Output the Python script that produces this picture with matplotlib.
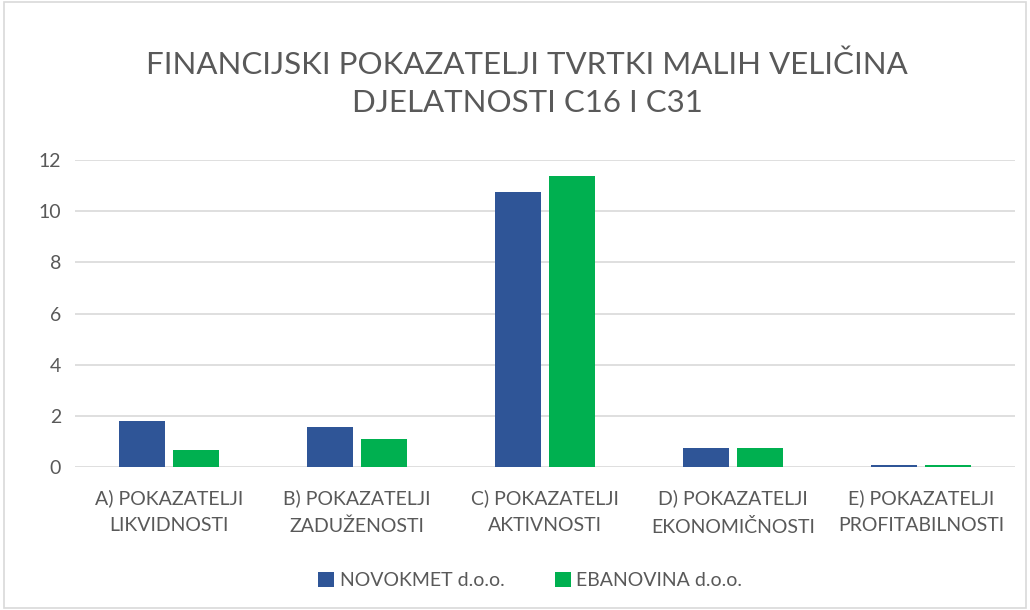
import matplotlib
matplotlib.use("Agg")
import matplotlib.pyplot as plt
import numpy as np
from matplotlib.patches import Rectangle

categories = ["A) POKAZATELJI\nLIKVIDNOSTI", "B) POKAZATELJI\nZADUŽENOSTI", "C) POKAZATELJI\nAKTIVNOSTI",
              "D) POKAZATELJI\nEKONOMIČNOSTI", "E) POKAZATELJI\nPROFITABILNOSTI"]
novokmet = [1.80, 1.55, 10.75, 0.74, 0.08]
ebanovina = [0.65, 1.09, 11.39, 0.74, 0.08]
series_names = ["NOVOKMET d.o.o.", "EBANOVINA d.o.o."]
yticks = [0, 2, 4, 6, 8, 10, 12]
title = "FINANCIJSKI POKAZATELJI TVRTKI MALIH VELIČINA\nDJELATNOSTI C16 I C31"

plt.rcParams['font.family'] = ['Lato', 'DejaVu Sans']
gray = "#595959"

fig = plt.figure(figsize=(10.3, 6.1), dpi=100)
ax = fig.add_axes([0.0728, 0.2344, 0.9126, 0.5033])

x = np.arange(len(categories))
w = 0.24
off = 0.1435
ax.bar(x - off, novokmet, w, color="#2F5597", label=series_names[0], zorder=3)
ax.bar(x + off, ebanovina, w, color="#00B050", label=series_names[1], zorder=3)

ax.set_xlim(-0.5, len(categories) - 0.5)
ax.set_ylim(0, 12)
ax.set_yticks(yticks)
ax.set_yticklabels([str(t) for t in yticks], color=gray, fontsize=14)
ax.set_xticks(x)
ax.set_xticklabels(categories, color=gray, fontsize=14, linespacing=1.7)
ax.tick_params(axis='y', length=0, pad=10)
ax.tick_params(axis='x', length=0, pad=16)
ax.grid(axis='y', color="#D9D9D9", linewidth=1.2, zorder=0)
for s in ax.spines.values():
    s.set_visible(False)

fig.text(0.512, 0.863, title, ha='center', va='center', fontsize=22.5, color=gray,
         linespacing=1.45, fontweight='normal')

leg = fig.legend(loc='center', bbox_to_anchor=(0.515, 0.048), ncol=2, frameon=False,
                 fontsize=14, handlelength=0.8, handleheight=0.8, columnspacing=2.6,
                 handletextpad=0.3)
for t in leg.get_texts():
    t.set_color(gray)

fig.patches.append(Rectangle((0.004, 0.004), 0.992, 0.992, transform=fig.transFigure,
                             fill=False, edgecolor="#D9D9D9", linewidth=1.2))

fig.savefig("out.png", dpi=100)
